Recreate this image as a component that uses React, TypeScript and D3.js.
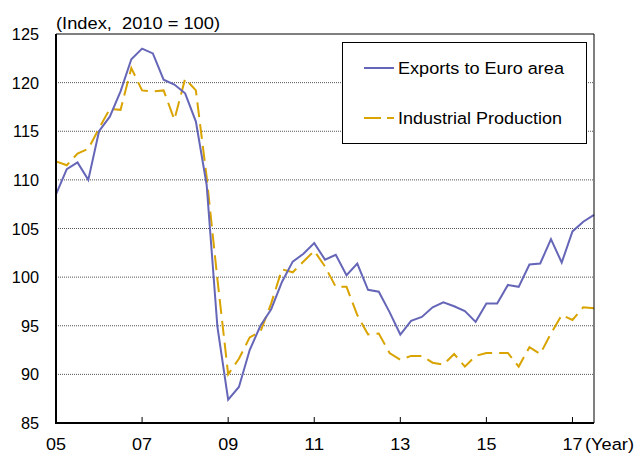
import * as d3 from "d3";

// quarterly, 2005Q1 .. 2017Q3
const startYear = 2005;
const exportsEuro = [
  108.5, 111.1, 111.8, 110.0, 115.0, 116.5, 119.1, 122.4, 123.5, 123.0,
  120.3, 119.8, 118.9, 116.0, 109.5, 94.9, 87.4, 88.7, 92.5, 95.0,
  96.7, 99.5, 101.6, 102.4, 103.5, 101.8, 102.3, 100.2, 101.4, 98.7,
  98.5, 96.4, 94.1, 95.5, 95.9, 96.9, 97.4, 97.0, 96.5, 95.4,
  97.3, 97.3, 99.2, 99.0, 101.3, 101.4, 103.9, 101.5, 104.7, 105.7,
  106.4,
];
const industrialProd = [
  111.9, 111.5, 112.7, 113.2, 115.3, 117.3, 117.2, 121.5, 119.2, 119.1,
  119.2, 116.2, 120.4, 119.2, 110.3, 99.8, 90.0, 91.6, 93.8, 94.4,
  97.3, 100.8, 100.5, 101.6, 102.7, 101.1, 99.0, 99.0, 96.1, 94.1,
  94.2, 92.2, 91.5, 91.9, 91.9, 91.2, 91.0, 92.1, 90.8, 91.9,
  92.2, 92.2, 92.2, 90.8, 92.8, 92.1, 94.2, 96.1, 95.6, 96.9,
  96.8,
];
const yTicks = [85, 90, 95, 100, 105, 110, 115, 120, 125];
const xTicks = [2005, 2007, 2009, 2011, 2013, 2015, 2017];
const xTickLabels = ["05", "07", "09", "11", "13", "15", "17"];

const W = 637, H = 454;
const left = 56, right = 594, top = 34, bottom = 423;
const blue = "#6666b8";
const gold = "#d9a300";
const font = "'Liberation Sans', Arial, sans-serif";
const fs = 16.3;

export default function App() {
  const x = d3.scaleLinear([2005, 2017.5], [left, right]);
  const y = d3.scaleLinear([85, 125], [bottom, top]);
  const line = d3.line<number>((d, i) => x(startYear + i / 4), (d) => y(d));

  return (
    <svg width={W} height={H} style={{ position: "absolute", left: 0, top: 0, background: "#fff" }} fontFamily={font}>
      {yTicks.slice(1, -1).map((t) => (
        <line key={t} x1={left} x2={right} y1={y(t)} y2={y(t)} stroke="#555" strokeWidth={1} strokeDasharray="1 1" />
      ))}
      {yTicks.map((t) => (
        <text key={t} x={39} y={y(t) + 6} textAnchor="end" fontSize={fs}>{t}</text>
      ))}
      {xTicks.map((t, i) => (
        <g key={t}>
          <line x1={x(t)} x2={x(t)} y1={bottom} y2={bottom - 6} stroke="#000" strokeWidth={1} />
          <text x={x(t)} y={450} textAnchor="middle" fontSize={fs} textLength={20} lengthAdjust="spacingAndGlyphs">{xTickLabels[i]}</text>
        </g>
      ))}
      <text x={585} y={450} fontSize={fs} textLength={49} lengthAdjust="spacingAndGlyphs">(Year)</text>
      <text x={56} y={29} fontSize={fs} textLength={164} lengthAdjust="spacingAndGlyphs">{"(Index,\u00a0 2010 = 100)"}</text>

      <path d={line(industrialProd) ?? ""} fill="none" stroke={gold} strokeWidth={2} strokeDasharray="15 7" />
      <path d={line(exportsEuro) ?? ""} fill="none" stroke={blue} strokeWidth={2} />

      <line x1={left} x2={right} y1={top} y2={top} stroke="#000" strokeWidth={1} />
      <line x1={right} x2={right} y1={top} y2={bottom} stroke="#000" strokeWidth={1} />
      <line x1={left} x2={left} y1={top} y2={bottom + 1} stroke="#000" strokeWidth={2} />
      <line x1={left - 1} x2={right} y1={bottom} y2={bottom} stroke="#000" strokeWidth={2} />

      <rect x={342.5} y={42.5} width={244} height={101} fill="#fff" stroke="#000" strokeWidth={1} />
      <line x1={364} x2={394} y1={68} y2={68} stroke={blue} strokeWidth={2} />
      <text x={398} y={74} fontSize={fs} textLength={166} lengthAdjust="spacingAndGlyphs">Exports to Euro area</text>
      <line x1={364} x2={394} y1={118} y2={118} stroke={gold} strokeWidth={2} strokeDasharray="17 6" />
      <text x={398} y={124} fontSize={fs} textLength={164} lengthAdjust="spacingAndGlyphs">Industrial Production</text>
    </svg>
  );
}
